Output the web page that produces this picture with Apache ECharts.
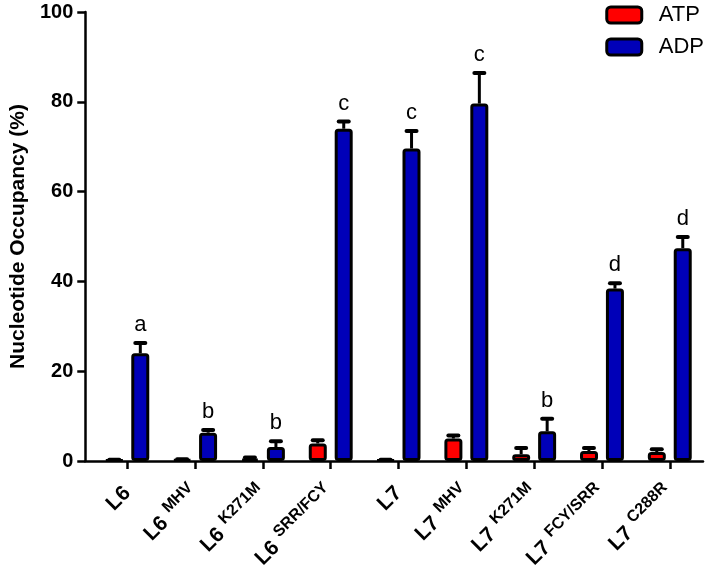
<!DOCTYPE html>
<html>
<head>
<meta charset="utf-8">
<script src="https://cdn.jsdelivr.net/npm/echarts@6/dist/echarts.min.js"></script>
<style>html,body{margin:0;padding:0;background:#fff}#c{width:717px;height:575px}</style>
</head>
<body>
<div id="c"></div>
<script>
const catBase = ['L6','L6','L6','L6','L7','L7','L7','L7','L7'];
const catSup  = ['','MHV','K271M','SRR/FCY','','MHV','K271M','FCY/SRR','C288R'];
const atpVals = [0.2, 0.3, 0.5, 3.9, 0.2, 5.0, 1.5, 2.2, 2.0];
const atpErr  = [0.1, 0.1, 0.3, 0.7, 0.1, 0.7, 1.4, 0.7, 0.6];
const adpVals = [24.0, 6.3, 3.1, 74.0, 69.6, 79.6, 6.6, 38.4, 47.4];
const adpErr  = [2.3, 0.6, 1.3, 1.6, 3.9, 6.8, 2.8, 1.2, 2.5];
const letters = ['a','b','b','c','c','c','b','d','d'];

const FONT = 'Liberation Sans, Arial, sans-serif';
const chart = echarts.init(document.getElementById('c'));

function pts(vals, errs) { return vals.map((v, i) => [i, v, errs[i]]); }

function errSeries(name, vals, errs, offset, withLetters) {
  return {
    type: 'custom', name: name + ' err', z: 5,
    data: pts(vals, errs),
    encode: { x: 0, y: 1 },
    renderItem: function (params, api) {
      const x = api.value(0), v = api.value(1), e = api.value(2);
      const p0 = api.coord([x, v]);
      const p1 = api.coord([x, v + e]);
      const cx = p0[0] + offset;
      const children = [
        { type: 'line', shape: { x1: cx, y1: p0[1], x2: cx, y2: p1[1] }, style: { stroke: '#000', lineWidth: 3 } },
        { type: 'line', shape: { x1: cx - 5, y1: p1[1], x2: cx + 5, y2: p1[1] }, style: { stroke: '#000', lineWidth: 4, lineCap: 'round' } }
      ];
      if (withLetters) {
        children.push({ type: 'text', style: { text: letters[params.dataIndex], x: cx, y: p1[1] - 7, align: 'center', verticalAlign: 'bottom', fontSize: 22, fontFamily: FONT, fill: '#000' } });
      }
      return { type: 'group', children: children };
    }
  };
}

const barCommon = { type: 'bar', barWidth: 18, barGap: '44%', z: 3 };

chart.setOption({
  animation: false,
  backgroundColor: '#fff',
  grid: { left: 84, right: 14, top: 12, bottom: 114, containLabel: false },
  legend: {
    data: ['ATP', 'ADP'], orient: 'vertical', right: 8, top: -1,
    itemWidth: 35, itemHeight: 16, itemGap: 10, icon: 'roundRect',
    itemStyle: { borderColor: '#000', borderWidth: 3 },
    textStyle: { fontSize: 22, fontFamily: FONT, color: '#000', padding: [0, 0, 0, 12] }
  },
  xAxis: {
    type: 'value', min: -0.62, max: 8.49,
    splitLine: { show: false },
    axisLine: { show: true, onZero: false, lineStyle: { color: '#000', width: 2.5 } },
    axisTick: { show: true, length: 8, customValues: catBase.map((_, i) => i), lineStyle: { color: '#000', width: 2.5 } },
    axisLabel: {
      customValues: catBase.map((_, i) => i),
      rotate: 45, margin: 29,
      formatter: function (v) {
        const i = Math.round(v);
        return catSup[i] ? '{m|' + catBase[i] + '}{s|' + catSup[i] + '}' : '{m|' + catBase[i] + '}';
      },
      rich: {
        m: { fontSize: 21, fontWeight: 'bold', fontFamily: FONT, color: '#000', lineHeight: 30 },
        s: { fontSize: 16, fontWeight: 'bold', fontFamily: FONT, color: '#000', lineHeight: 14, verticalAlign: 'top', padding: [0, 0, 0, 7] }
      }
    }
  },
  yAxis: {
    type: 'value', min: 0, max: 100, interval: 20,
    name: 'Nucleotide Occupancy (%)', nameLocation: 'middle', nameGap: 56,
    nameTextStyle: { fontSize: 21, fontWeight: 'bold', fontFamily: FONT, color: '#000' },
    splitLine: { show: false },
    axisLine: { show: true, onZero: false, lineStyle: { color: '#000', width: 2.5 } },
    axisTick: { show: true, length: 8, lineStyle: { color: '#000', width: 2.5 } },
    axisLabel: { fontSize: 20, fontWeight: 'bold', fontFamily: FONT, color: '#000', margin: 12 }
  },
  series: [
    Object.assign({}, barCommon, { name: 'ATP', data: pts(atpVals, atpErr), itemStyle: { color: '#ff0000', borderColor: '#000', borderWidth: 3, borderRadius: 2 } }),
    Object.assign({}, barCommon, { name: 'ADP', data: pts(adpVals, adpErr), itemStyle: { color: '#0000b8', borderColor: '#000', borderWidth: 3, borderRadius: 2 } }),
    errSeries('ATP', atpVals, atpErr, -13, false),
    errSeries('ADP', adpVals, adpErr, 13, true)
  ]
});
</script>
</body>
</html>
